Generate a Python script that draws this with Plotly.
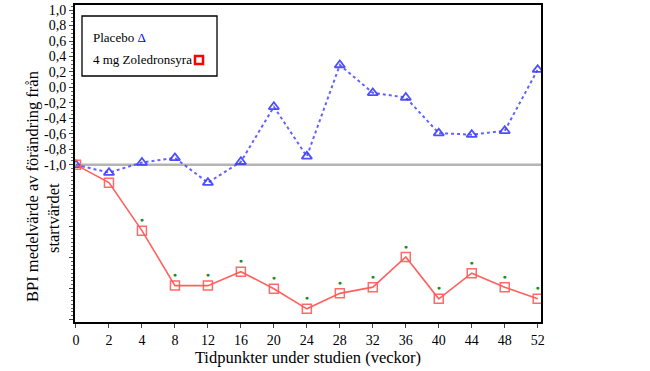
import plotly.graph_objects as go

weeks = ["0", "2", "4", "8", "12", "16", "20", "24", "28", "32", "36", "40", "44", "48", "52"]
placebo = [-1.0, -1.10, -0.97, -0.91, -1.23, -0.96, -0.25, -0.89, 0.29, -0.07, -0.13, -0.59, -0.61, -0.56, 0.23]
zoledron = [-1.0, -1.23, -1.85, -2.56, -2.56, -2.38, -2.60, -2.86, -2.66, -2.58, -2.19, -2.73, -2.40, -2.58, -2.73]
significant = [False, False, True, True, True, True, True, True, True, True, True, True, True, True, True]
ytick_vals = [1.0, 0.8, 0.6, 0.4, 0.2, 0.0, -0.2, -0.4, -0.6, -0.8, -1.0, -1.4, -1.8, -2.2, -2.6, -3.0]
ytick_text = ["1,0", "0,8", "0,6", "0,4", "0,2", "0,0", "-0,2", "-0,4", "-0,6", "-0,8", "-1,0", "", "", "", "", ""]

idx = list(range(len(weeks)))
serif = "Liberation Serif, Times New Roman, serif"

L, T, W, H = 75, 5, 466, 317
def px(x):
    return (x - L) / W
def py(y):
    return 1 - (y - T) / H

fig = go.Figure()
fig.add_shape(type="line", xref="paper", x0=0, x1=1, yref="y", y0=-1.0, y1=-1.0,
              line=dict(color="#b4b4b4", width=2.5), layer="below")

fig.add_trace(go.Scatter(
    x=idx, y=placebo, mode="lines+markers", name="Placebo",
    line=dict(color="rgba(70,70,255,0.85)", width=2, dash="dot"),
    marker=dict(symbol="triangle-up-open", size=9, color="rgba(60,60,255,0.9)",
                line=dict(width=1.8)),
))
fig.add_trace(go.Scatter(
    x=idx, y=zoledron, mode="lines+markers+text", name="4 mg Zoledronsyra",
    line=dict(color="rgba(255,80,80,0.9)", width=1.6),
    marker=dict(symbol="square-open", size=9, color="rgba(255,90,90,0.9)",
                line=dict(width=1.5)),
    text=["●" if s else "" for s in significant],
    textposition="top center",
    textfont=dict(color="#1f8a1f", size=7),
))

# legend box
fig.add_shape(type="rect", xref="paper", yref="paper", x0=px(82), x1=px(217), y0=py(76), y1=py(16),
              line=dict(color="black", width=1.3), fillcolor="white")
fig.add_annotation(xref="paper", yref="paper", x=px(91), y=py(37), xanchor="left", yanchor="middle",
                   showarrow=False, text="Placebo <span style='color:#0000ff'>Δ</span>",
                   font=dict(family=serif, size=13, color="black"))
fig.add_annotation(xref="paper", yref="paper", x=px(91), y=py(59), xanchor="left", yanchor="middle",
                   showarrow=False, text="4 mg Zoledronsyra",
                   font=dict(family=serif, size=13, color="black"))
fig.add_shape(type="rect", xref="paper", yref="paper", x0=px(195), x1=px(203), y0=py(64), y1=py(56),
              line=dict(color="#ff0000", width=2.5), fillcolor="white")

# y-axis title (two lines placed separately)
fig.add_annotation(xref="paper", yref="paper", x=px(32), y=py(187),
                   text="BPI medelvärde av förändring från", textangle=-90, showarrow=False,
                   xanchor="center", yanchor="middle", font=dict(family=serif, size=16.5, color="black"))
fig.add_annotation(xref="paper", yref="paper", x=px(53), y=py(218),
                   text="startvärdet", textangle=-90, showarrow=False,
                   xanchor="center", yanchor="middle", font=dict(family=serif, size=16.5, color="black"))

fig.update_layout(
    width=650, height=371,
    margin=dict(l=L, r=650 - L - W, t=T, b=371 - T - H, autoexpand=False),
    paper_bgcolor="white", plot_bgcolor="white",
    showlegend=False,
    font=dict(family=serif, color="black"),
    xaxis=dict(
        range=[-0.03, 14.1], tickmode="array", tickvals=idx, ticktext=weeks,
        showline=True, linecolor="black", linewidth=2, mirror=True, automargin=False,
        ticks="outside", ticklen=4, tickcolor="#444", showgrid=False, zeroline=False,
        tickfont=dict(family=serif, size=14),
        title=dict(text="Tidpunkter under studien (veckor)", font=dict(family=serif, size=16.5), standoff=1),
    ),
    yaxis=dict(
        range=[-3.03, 1.065], tickmode="array", tickvals=ytick_vals, ticktext=ytick_text,
        showline=True, linecolor="black", linewidth=2, mirror=True, automargin=False,
        ticks="outside", ticklen=4, tickcolor="#444", showgrid=False, zeroline=False,
        tickfont=dict(family=serif, size=14),
        minor=dict(ticks="outside", ticklen=2, dtick=0.05, tickcolor="#666"),
    ),
)

fig.write_html("out.html", config={"displayModeBar": False},
               post_script="document.body.style.margin='0';document.body.style.padding='0';")
